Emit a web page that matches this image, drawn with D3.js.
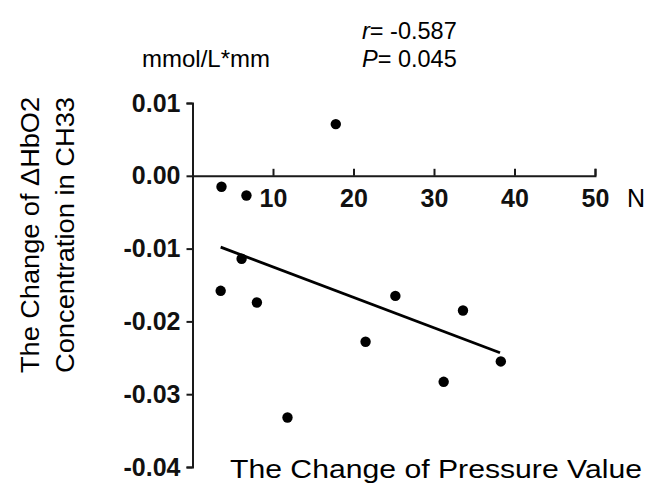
<!DOCTYPE html>
<html>
<head>
<meta charset="utf-8">
<script src="https://cdn.jsdelivr.net/npm/d3@7"></script>
<style>
  body { margin: 0; background: #fff; }
  svg { font-family: "Liberation Sans", Arial, sans-serif; }
  .axis path, .axis line { stroke: #1a1a1a; stroke-width: 2; }
  .axis text { font-weight: bold; font-size: 25px; fill: #111; font-family: "Liberation Sans", Arial, sans-serif; }
</style>
</head>
<body>
<svg id="chart"></svg>
<script>
// data
const pressureChange = [3.5, 3.6, 6.1, 6.7, 8.0, 11.8, 17.8, 21.5, 25.2, 31.2, 33.6, 38.3];
const hbo2Change = [-0.0158, -0.0015, -0.0114, -0.0027, -0.0174, -0.0332, 0.0071, -0.0228, -0.0165, -0.0283, -0.0185, -0.0255];
const fitX = [3.5, 38.2];
const fitY = [-0.0098, -0.0243];
const xTicks = [10, 20, 30, 40, 50];
const yTicks = [0.01, 0.00, -0.01, -0.02, -0.03, -0.04];
const statsText = ["r", "= -0.587", "P", "= 0.045"];

const width = 650, height = 485;

const svg = d3.select("#chart")
    .attr("width", width)
    .attr("height", height);

const x = d3.scaleLinear().domain([0, 50]).range([192.5, 595]);
const y = d3.scaleLinear().domain([-0.04, 0.01]).range([467, 103]);

// x axis sits on y = 0, ticks point up, labels below
const xAxis = d3.axisBottom(x)
    .tickValues(xTicks)
    .tickSizeInner(-7)
    .tickSizeOuter(-7)
    .tickPadding(13)
    .tickFormat(d3.format("d"));

svg.append("g")
    .attr("class", "axis x-axis")
    .attr("transform", `translate(0,${y(0)})`)
    .call(xAxis);

const yAxis = d3.axisLeft(y)
    .tickValues(yTicks)
    .tickSizeInner(6)
    .tickSizeOuter(6)
    .tickPadding(6)
    .tickFormat(d => d.toFixed(2));

svg.append("g")
    .attr("class", "axis y-axis")
    .attr("transform", `translate(${x(0)},0)`)
    .call(yAxis);

// unit "N" after the x axis
svg.append("text")
    .attr("x", 636)
    .attr("y", 207)
    .attr("text-anchor", "middle")
    .style("font-size", "25px")
    .text("N");

// regression line
const line = d3.line()
    .x(d => x(d[0]))
    .y(d => y(d[1]));

svg.append("path")
    .datum(d3.zip(fitX, fitY))
    .attr("fill", "none")
    .attr("stroke", "#000")
    .attr("stroke-width", 2.8)
    .attr("d", line);

// points
svg.selectAll(".dot")
    .data(d3.zip(pressureChange, hbo2Change))
    .join("circle")
    .attr("class", "dot")
    .attr("cx", d => x(d[0]))
    .attr("cy", d => y(d[1]))
    .attr("r", 5.2)
    .attr("fill", "#000");

// unit above y axis
svg.append("text")
    .attr("x", 142)
    .attr("y", 67)
    .style("font-size", "24px")
    .text("mmol/L*mm");

// r and P
const st1 = svg.append("text")
    .attr("x", 362)
    .attr("y", 39)
    .style("font-size", "23.5px");
st1.append("tspan").style("font-style", "italic").text(statsText[0]);
st1.append("tspan").text(statsText[1]);

const st2 = svg.append("text")
    .attr("x", 362)
    .attr("y", 67)
    .style("font-size", "23.5px");
st2.append("tspan").style("font-style", "italic").text(statsText[2]);
st2.append("tspan").text(statsText[3]);

// y axis title (two lines)
svg.append("text")
    .attr("transform", "rotate(-90)")
    .attr("x", -235)
    .attr("y", 39)
    .attr("text-anchor", "middle")
    .attr("textLength", 276)
    .attr("lengthAdjust", "spacingAndGlyphs")
    .style("font-size", "26.5px")
    .text("The Change of \u0394HbO2");

svg.append("text")
    .attr("transform", "rotate(-90)")
    .attr("x", -235)
    .attr("y", 73.5)
    .attr("text-anchor", "middle")
    .attr("textLength", 276)
    .attr("lengthAdjust", "spacingAndGlyphs")
    .style("font-size", "26.5px")
    .text("Concentration in CH33");

// x axis title
svg.append("text")
    .attr("x", 230)
    .attr("y", 478)
    .attr("textLength", 412)
    .attr("lengthAdjust", "spacingAndGlyphs")
    .style("font-size", "26px")
    .text("The Change of Pressure Value");
</script>
</body>
</html>
